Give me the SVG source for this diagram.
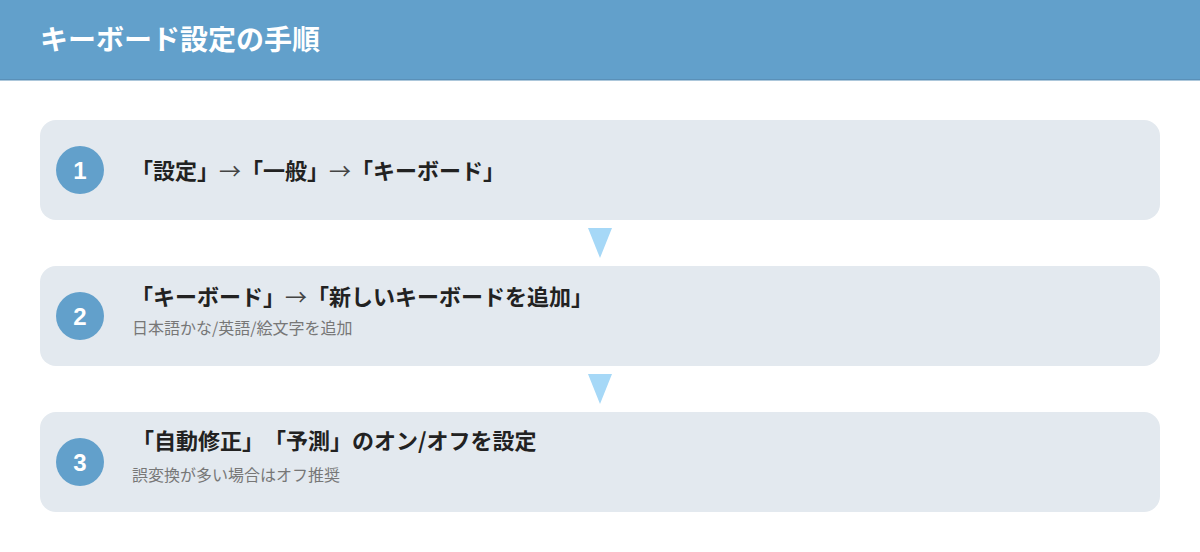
<svg xmlns="http://www.w3.org/2000/svg" width="1200" height="552" viewBox="0 0 1200 552">
<style>
text{text-spacing-trim:space-all}
.hdr{fill:#62a0cb}
.card{fill:#e3e9ef}
.badge{fill:#62a0cb}
.num{font-family:"Liberation Sans","Noto Sans",sans-serif;font-weight:bold;font-size:24px;fill:#ffffff;text-anchor:middle}
.title{font-family:"Noto Sans CJK JP","Noto Sans",sans-serif;font-weight:bold;font-size:22px;fill:#222222}
.ar{font-weight:normal;fill:#444444}
.sub{font-family:"Noto Sans CJK JP","Noto Sans",sans-serif;font-size:16px;fill:#777777}
.h1{font-family:"Noto Sans CJK JP","Noto Sans",sans-serif;font-weight:bold;font-size:28px;fill:#ffffff}
.arrow{fill:#a6d8f7}
</style>
<rect width="1200" height="552" fill="#ffffff"/>
<g id="header">
<rect class="hdr" x="0" y="0" width="1200" height="80"/>
<rect x="0" y="79" width="1200" height="1.5" fill="#5a90b8"/>
<text class="h1" x="40" y="50">キーボード設定の手順</text>
</g>
<g id="step1">
<rect class="card" x="40" y="120" width="1120" height="100" rx="16"/>
<circle class="badge" cx="80" cy="170" r="24"/>
<text class="num" x="80" y="179">1</text>
<text class="title" x="131" y="179">「設定」<tspan class="ar">→</tspan>「一般」<tspan class="ar">→</tspan>「キーボード」</text>
</g>
<g id="step2">
<rect class="card" x="40" y="266" width="1120" height="100" rx="16"/>
<circle class="badge" cx="80" cy="316" r="24"/>
<text class="num" x="80" y="325">2</text>
<text class="title" x="131" y="305">「キーボード」<tspan class="ar">→</tspan>「新しいキーボードを追加」</text>
<text class="sub" x="132" y="334">日本語かな/英語/絵文字を追加</text>
</g>
<g id="step3">
<rect class="card" x="40" y="412" width="1120" height="100" rx="16"/>
<circle class="badge" cx="80" cy="462" r="24"/>
<text class="num" x="80" y="471">3</text>
<text class="title" x="132" y="449">「自動修正」「予測」のオン/オフを設定</text>
<text class="sub" x="132" y="481">誤変換が多い場合はオフ推奨</text>
</g>
<g id="connectors">
<polygon class="arrow" points="588,228 612,228 600,258"/>
<polygon class="arrow" points="588,374 612,374 600,404"/>
</g>
</svg>
